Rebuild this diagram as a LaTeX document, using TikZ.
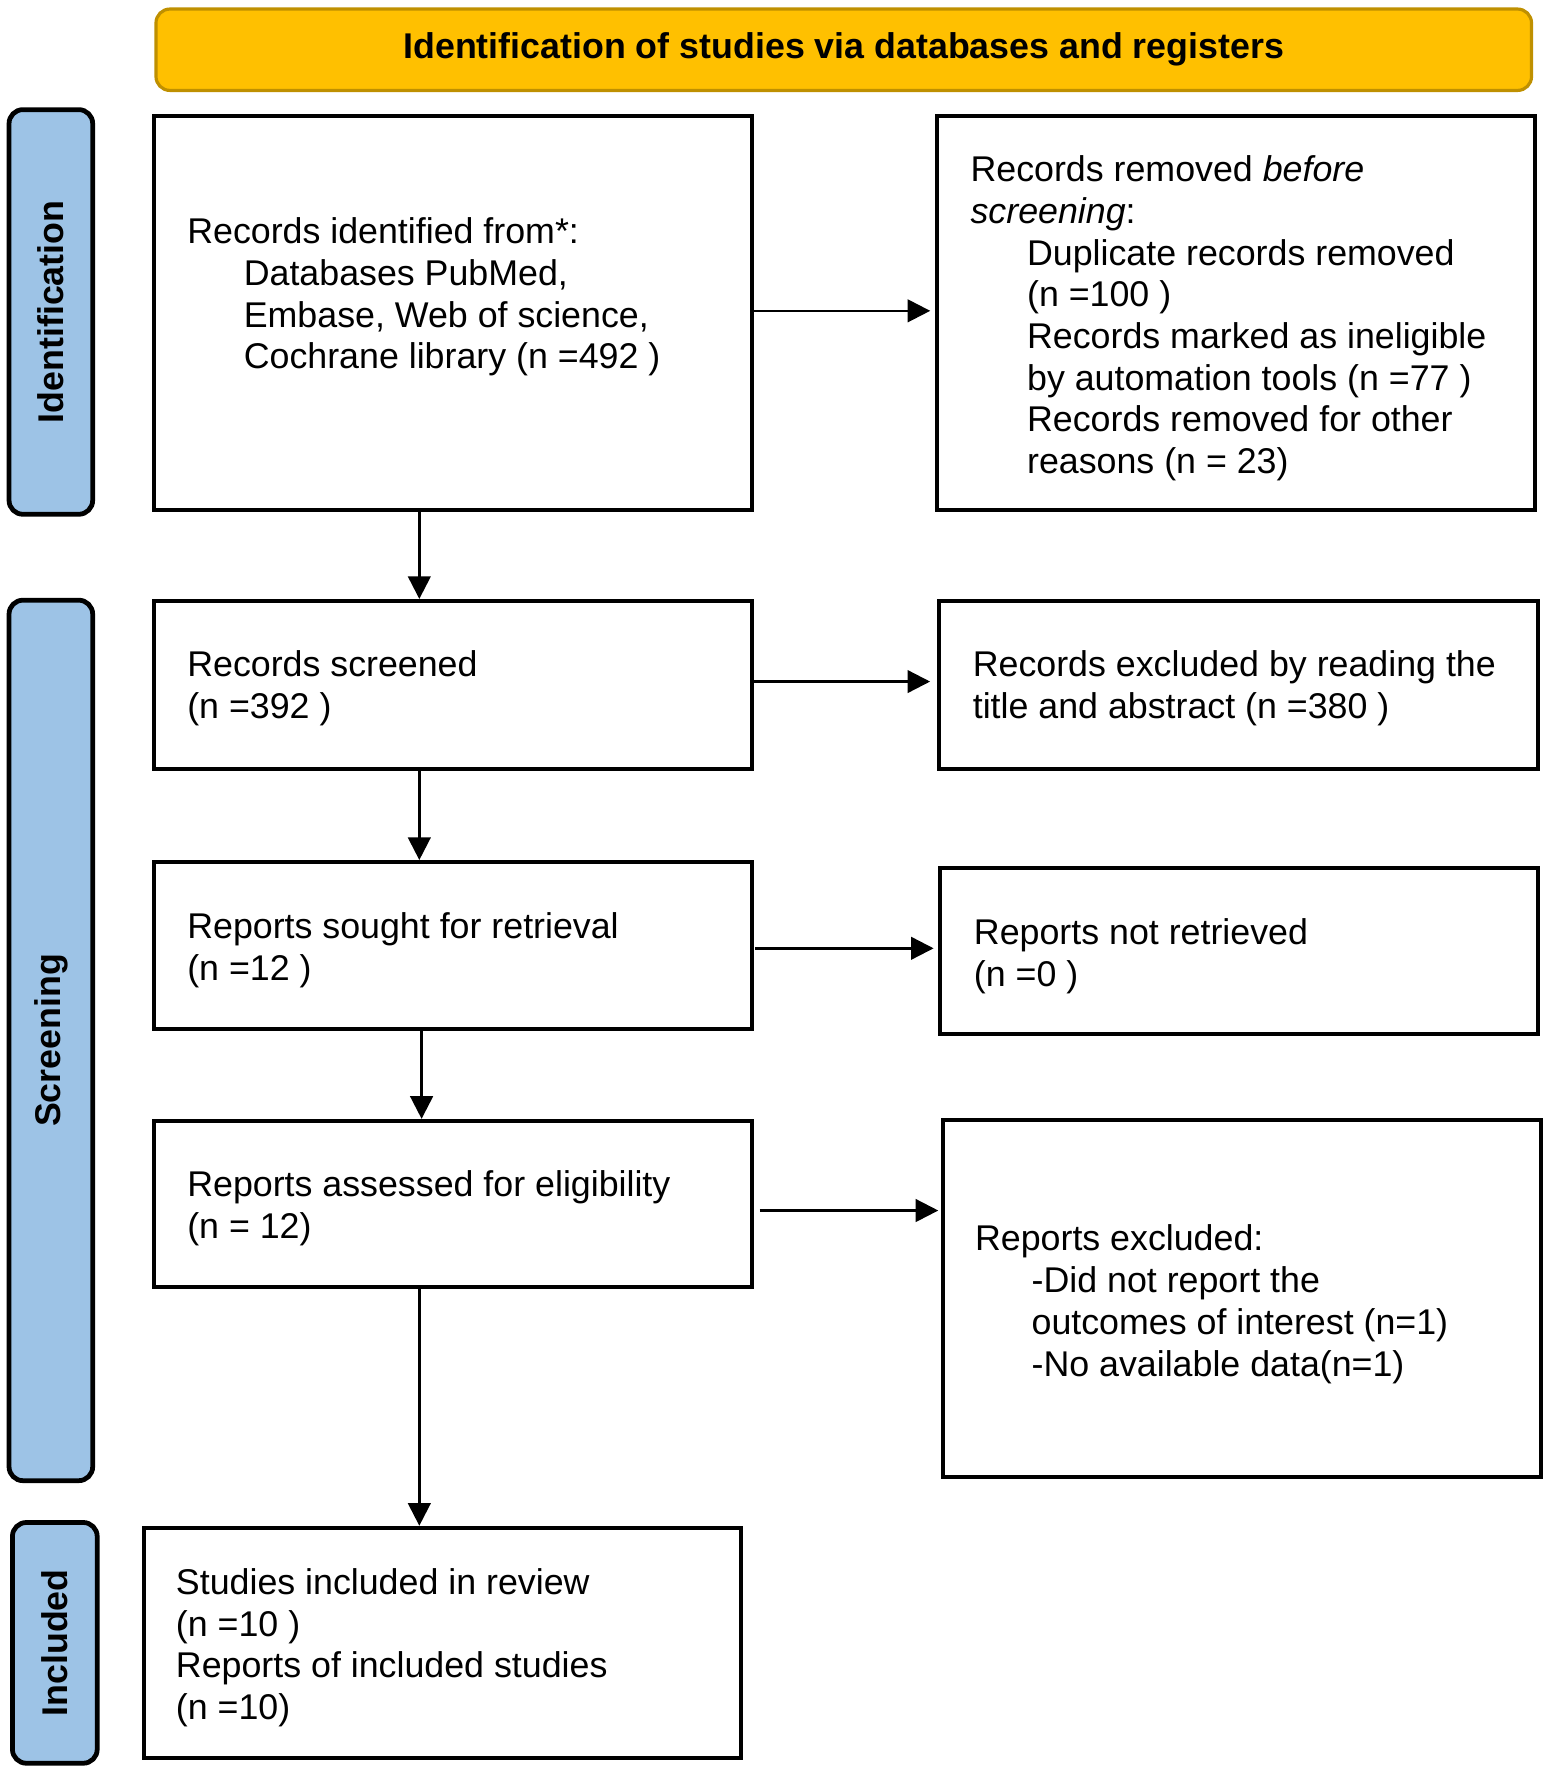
\documentclass[tikz,border=0pt]{standalone}
\usepackage{fontspec}
\setmainfont{Liberation Sans}
\usetikzlibrary{arrows.meta,fit}
\definecolor{bannerfill}{HTML}{FFC000}
\definecolor{bannerdraw}{HTML}{BF9000}
\definecolor{sidefill}{HTML}{9DC3E6}
\begin{document}
\begin{tikzpicture}[x=0.01cm,y=-0.01cm,
  box/.style={draw=black, line width=1pt, fill=white, inner sep=0pt, outer sep=0pt},
  banner/.style={draw=bannerdraw, fill=bannerfill, line width=0.8pt, rounded corners=3.5pt, inner sep=0pt, outer sep=0pt},
  side/.style={draw=black, fill=sidefill, line width=1.2pt, rounded corners=3.5pt, inner sep=0pt, outer sep=0pt},
  txt/.style={anchor=north west, align=left, inner sep=0pt, font=\fontsize{9}{10.5}\selectfont},
  bold/.style={inner sep=0pt, font=\fontsize{9}{10.5}\selectfont\bfseries},
  arr/.style={-{Triangle[length=2mm,width=2mm]}, line width=0.6pt}]
\useasboundingbox (0,0) rectangle (1370,1566);

% banner
\node[banner, fit={(138,8) (1355,80)}] (ban) {};
\node[bold] (bantxt) at (ban.center) {Identification of studies via databases and registers};

% side labels
\node[side, fit={(8,97) (82,455)}] (sid) {};
\node[bold, rotate=90] (sidtxt) at (sid.center) {Identification};
\node[side, fit={(8,531) (82,1310)}] (sscr) {};
\node[bold, rotate=90] (sscrtxt) at (sscr.center) {Screening};
\node[side, fit={(11,1347) (86,1560)}] (sinc) {};
\node[bold, rotate=90] (sinctxt) at (sinc.center) {Included};

% boxes
\node[box, fit={(136,103) (665,451)}] (a) {};
\node[box, fit={(829,103) (1358,451)}] (b) {};
\node[box, fit={(136,532) (665,680)}] (c) {};
\node[box, fit={(831,532) (1361,680)}] (d) {};
\node[box, fit={(136,763) (665,910)}] (e) {};
\node[box, fit={(832,768) (1361,915)}] (f) {};
\node[box, fit={(136,992) (665,1139)}] (g) {};
\node[box, fit={(834,991) (1363,1307)}] (h) {};
\node[box, fit={(127,1352) (656,1555)}] (i) {};

% texts
\node[txt] (at) at (165,192) {Records identified from*:\\
\hspace*{0.5cm}Databases PubMed,\\
\hspace*{0.5cm}Embase, Web of science,\\
\hspace*{0.5cm}Cochrane library (n =492 )};
\node[txt] (bt) at (858,137) {Records removed \textit{before}\\
\textit{screening}:\\
\hspace*{0.5cm}Duplicate records removed\\
\hspace*{0.5cm}(n =100 )\\
\hspace*{0.5cm}Records marked as ineligible\\
\hspace*{0.5cm}by automation tools (n =77 )\\
\hspace*{0.5cm}Records removed for other\\
\hspace*{0.5cm}reasons (n = 23)};
\node[txt] (ct) at (165,575) {Records screened\\(n =392 )};
\node[txt] (dt) at (860,575) {Records excluded by reading the\\title and abstract (n =380 )};
\node[txt] (et) at (165,807) {Reports sought for retrieval\\(n =12 )};
\node[txt] (ft) at (861,812) {Reports not retrieved\\(n =0 )};
\node[txt] (gt) at (165,1035) {Reports assessed for eligibility\\(n = 12)};
\node[txt] (ht) at (862,1083) {Reports excluded:\\
\hspace*{0.5cm}-Did not report the\\
\hspace*{0.5cm}outcomes of interest (n=1)\\
\hspace*{0.5cm}-No available data(n=1)};
\node[txt] (it) at (155,1387) {Studies included in review\\(n =10 )\\Reports of included studies\\(n =10)};

% connectors
\draw[arr] (a.east |- 0,275) -- ([xshift=-1.7pt]b.west |- 0,275);
\draw[arr] (c.east |- 0,603) -- ([xshift=-2.3pt]d.west |- 0,603);
\draw[arr] ([xshift=0.85pt]e.east |- 0,839) -- ([xshift=-1.7pt]f.west |- 0,839);
\draw[arr] ([xshift=2pt]g.east |- 0,1071) -- ([xshift=-1.1pt]h.west |- 0,1071);
\draw[arr] (371,0 |- a.south) -- ([yshift=0.6pt]371,0 |- c.north);
\draw[arr] (371,0 |- c.south) -- ([yshift=0.6pt]371,0 |- e.north);
\draw[arr] (373,0 |- e.south) -- ([yshift=0.6pt]373,0 |- g.north);
\draw[arr] (371,0 |- g.south) -- ([yshift=0.6pt]371,0 |- i.north);
\end{tikzpicture}
\end{document}
